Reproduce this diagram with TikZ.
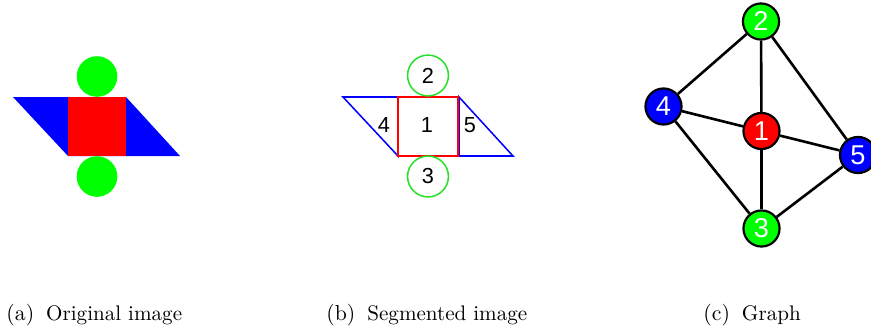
\documentclass[tikz,border=0pt]{standalone}
\usepackage{fontspec}
\newfontfamily\labelfont{Liberation Sans}
\usetikzlibrary{positioning}

\definecolor{purered}{RGB}{255,0,0}
\definecolor{pureblue}{RGB}{0,0,255}
\definecolor{puregreen}{RGB}{0,255,0}
\definecolor{edgegreen}{RGB}{40,225,40}

\begin{document}
\begin{tikzpicture}[
        x=0.46pt, y=-0.46pt,
        segment/.style={draw=edgegreen, circle, line width=0.7pt, minimum size=18.8pt,
          inner sep=0pt, font=\labelfont\fontsize{10}{10}\selectfont},
        region/.style={inner sep=0pt, font=\labelfont\fontsize{10}{10}\selectfont},
        vertex/.style={draw=black, circle, line width=1pt, minimum size=16.6pt,
          inner sep=0pt, text=white, font=\labelfont\fontsize{12.5}{12.5}\selectfont},
        link/.style={line width=1.2pt},
        caption/.style={anchor=base west, inner sep=0pt},
    ]
        \useasboundingbox (0,0) rectangle (871,327);

        % (a) original image
        \fill[pureblue] (13,97) -- (126,97) -- (180,156) -- (68,156) -- cycle;
        \fill[purered] (68,97) rectangle (126,156);
        \fill[puregreen] (97,76.5) circle[radius=20.3];
        \fill[puregreen] (97,176.5) circle[radius=20.3];

        % (b) segmented image
        \draw[pureblue, line width=0.7pt] (343,97) -- (398,97) -- (398,156) -- cycle;
        \draw[pureblue, line width=0.7pt] (459,97) -- (513,156) -- (459,156) -- cycle;
        \draw[purered, line width=0.7pt] (398,97) rectangle (458,156);
        \node[region] (r1) at (427,125) {1};
        \node[segment] (r2) at (428,75.5) {2};
        \node[segment] (r3) at (428,176.5) {3};
        \node[region] (r4) at (384,125) {4};
        \node[region] (r5) at (470,125) {5};

        % (c) graph
        \node[vertex, fill=purered] (v1) at (761.5,131) {1};
        \node[vertex, fill=puregreen] (v2) at (761,21.5) {2};
        \node[vertex, fill=puregreen] (v3) at (761.5,228.5) {3};
        \node[vertex, fill=pureblue] (v4) at (663.5,106.5) {4};
        \node[vertex, fill=pureblue] (v5) at (858,155) {5};
        \draw[link] (v2) -- (v4);
        \draw[link] (v2) -- (v1);
        \draw[link] (v2) -- (v5);
        \draw[link] (v4) -- (v1);
        \draw[link] (v4) -- (v3);
        \draw[link] (v1) -- (v5);
        \draw[link] (v1) -- (v3);
        \draw[link] (v3) -- (v5);

        % captions
        \node[caption] (capa) at (6,320) {(a)\hspace{5.5pt}{\fontsize{9.7}{11}\selectfont Original image}};
        \node[caption] (capb) at (326,320) {(b)\hspace{5.5pt}{\fontsize{9.7}{11}\selectfont Segmented image}};
        \node[caption] (capc) at (703,320) {(c)\hspace{5.5pt}{\fontsize{9.7}{11}\selectfont Graph}};
    \end{tikzpicture}
\end{document}
